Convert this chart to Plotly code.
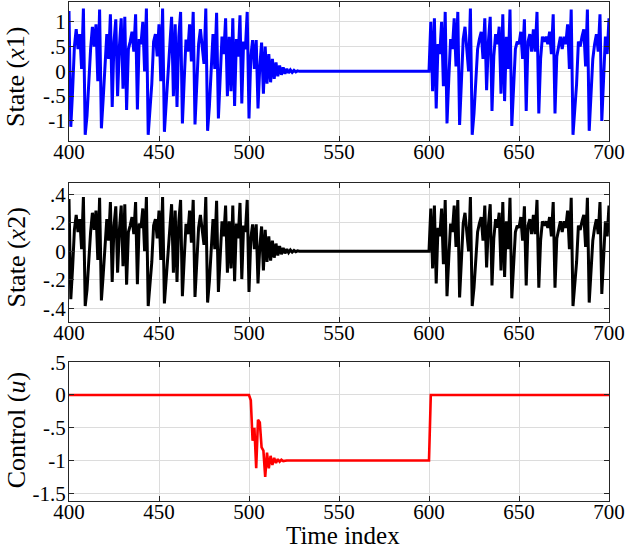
import plotly.graph_objects as go

# Time index
t = list(range(400, 701))

# State x1
x1 = [
    1.22, -1.12, -0.39, 0.50, 0.85, 0.45, 0.75, 0.05, 1.27, -1.28,
    -0.90, -0.20, 0.45, 0.90, 0.50, 0.95, -0.20, 1.25, -1.15, -0.55,
    0.20, 0.75, 0.25, 1.15, -0.72, 0.60, 1.05, -0.50, 0.50, 1.07,
    -0.35, 1.10, -0.78, 0.45, 0.60, 0.80, 0.40, 1.15, -0.77, 0.65,
    0.55, 1.00, 0.00, 1.27, -1.28, -0.85, -0.25, 0.60, 0.75, 0.30,
    0.95, -0.20, 1.27, -1.22, -0.65, 0.10, 0.70, 1.10, -0.50, 0.95,
    -0.72, 0.70, 1.20, -1.05, -0.18, 0.64, 0.40, 0.95, 0.20, 1.20,
    -1.07, -0.30, 0.55, 0.85, 0.50, 0.15, 1.27, -1.20, -0.70, 0.20,
    0.75, 0.05, 1.18, -0.95, 0.05, 0.70, 0.35, 1.07, -0.50, 0.70,
    -0.40, 1.07, -0.70, 0.65, 0.30, 1.13, -0.65, 0.60, 0.45, 1.20,
    -0.95,
    0.30, 0.63, 0.05, 0.63, -0.75, 0.10, 0.58, -0.45, 0.50, -0.25,
    0.35, -0.22, 0.25, -0.15, 0.18, -0.10, 0.12, -0.07, 0.08, -0.05,
    0.05, -0.03, 0.03, -0.02, 0.02, -0.01, 0.01,
    0, 0, 0, 0, 0, 0, 0, 0, 0, 0, 0, 0, 0, 0, 0, 0, 0, 0, 0, 0,
    0, 0, 0, 0, 0, 0, 0, 0, 0, 0, 0, 0, 0, 0, 0, 0, 0, 0, 0, 0,
    0, 0, 0, 0, 0, 0, 0, 0, 0, 0, 0, 0, 0, 0, 0, 0, 0, 0, 0, 0,
    0, 0, 0, 0, 0, 0, 0, 0, 0, 0, 0, 0, 0,
    1.00, -0.40, 1.07, -0.75, 0.55, 0.35, 1.00, -0.30, 1.20, -1.05,
    -0.15, 0.65, 0.45, 1.07, 0.10, 1.20, -1.08, -0.25, 0.65, 0.90,
    0.50, 0.00, 1.27, -1.28, -0.85, -0.25, 0.45, 0.65, 0.80, 0.25,
    1.07, -0.38, 0.60, 1.10, -0.80, 0.30, 0.75, 0.55, 0.90, -0.45,
    1.15, -0.60, 0.70, 0.05, 1.25, -1.10, -0.40, 0.45, 0.60, 0.55,
    0.80, 0.25, 1.05, -0.80, 0.60, 0.75, 0.40, 0.85, 0.40, 1.20,
    -0.85, 0.25, 0.70, 0.60, 0.70, 0.55, 0.80, 0.35, 1.15, -0.85,
    0.30, 0.55, 0.70, 0.45, 0.70, 0.55, 0.95, 0.05, 1.25, -1.28,
    -0.85, -0.25, 0.60, 0.50, 0.70, 0.85, 0.10, 1.25, -1.20, -0.60,
    0.25, 0.55, 0.75, 0.40, 1.15, -1.00, -0.05, 0.70, 0.35, 1.07,
]

# State x2
x2 = [
    0.366, -0.336, -0.117, 0.150, 0.255, 0.135, 0.225, 0.015, 0.381, -0.384,
    -0.270, -0.060, 0.135, 0.270, 0.150, 0.285, -0.060, 0.375, -0.345, -0.165,
    0.060, 0.225, 0.075, 0.345, -0.216, 0.180, 0.315, -0.150, 0.150, 0.321,
    -0.105, 0.330, -0.234, 0.135, 0.180, 0.240, 0.120, 0.345, -0.231, 0.195,
    0.165, 0.300, 0.000, 0.381, -0.384, -0.255, -0.075, 0.180, 0.225, 0.090,
    0.285, -0.060, 0.381, -0.366, -0.195, 0.030, 0.210, 0.330, -0.150, 0.285,
    -0.216, 0.210, 0.360, -0.315, -0.054, 0.192, 0.120, 0.285, 0.060, 0.360,
    -0.321, -0.090, 0.165, 0.255, 0.150, 0.045, 0.381, -0.360, -0.210, 0.060,
    0.225, 0.015, 0.354, -0.285, 0.015, 0.210, 0.105, 0.321, -0.150, 0.210,
    -0.120, 0.321, -0.210, 0.195, 0.090, 0.339, -0.195, 0.180, 0.135, 0.360,
    -0.285,
    0.090, 0.189, 0.015, 0.189, -0.225, 0.030, 0.174, -0.135, 0.150, -0.075,
    0.105, -0.066, 0.075, -0.045, 0.054, -0.030, 0.036, -0.021, 0.024, -0.015,
    0.015, -0.009, 0.009, -0.006, 0.006, -0.003, 0.003,
    0, 0, 0, 0, 0, 0, 0, 0, 0, 0, 0, 0, 0, 0, 0, 0, 0, 0, 0, 0,
    0, 0, 0, 0, 0, 0, 0, 0, 0, 0, 0, 0, 0, 0, 0, 0, 0, 0, 0, 0,
    0, 0, 0, 0, 0, 0, 0, 0, 0, 0, 0, 0, 0, 0, 0, 0, 0, 0, 0, 0,
    0, 0, 0, 0, 0, 0, 0, 0, 0, 0, 0, 0, 0,
    0.300, -0.120, 0.321, -0.225, 0.165, 0.105, 0.300, -0.090, 0.360, -0.315,
    -0.045, 0.195, 0.135, 0.321, 0.030, 0.360, -0.324, -0.075, 0.195, 0.270,
    0.150, 0.000, 0.381, -0.384, -0.255, -0.075, 0.135, 0.195, 0.240, 0.075,
    0.321, -0.114, 0.180, 0.330, -0.240, 0.090, 0.225, 0.165, 0.270, -0.135,
    0.345, -0.180, 0.210, 0.015, 0.375, -0.330, -0.120, 0.135, 0.180, 0.165,
    0.240, 0.075, 0.315, -0.240, 0.180, 0.225, 0.120, 0.255, 0.120, 0.360,
    -0.255, 0.075, 0.210, 0.180, 0.210, 0.165, 0.240, 0.105, 0.345, -0.255,
    0.090, 0.165, 0.210, 0.135, 0.210, 0.165, 0.285, 0.015, 0.375, -0.384,
    -0.255, -0.075, 0.180, 0.150, 0.210, 0.255, 0.030, 0.375, -0.360, -0.180,
    0.075, 0.165, 0.225, 0.120, 0.345, -0.300, -0.015, 0.210, 0.105, 0.321,
]

# Control u
u = [
    0, 0, 0, 0, 0, 0, 0, 0, 0, 0, 0, 0, 0, 0, 0, 0, 0, 0, 0, 0,
    0, 0, 0, 0, 0, 0, 0, 0, 0, 0, 0, 0, 0, 0, 0, 0, 0, 0, 0, 0,
    0, 0, 0, 0, 0, 0, 0, 0, 0, 0, 0, 0, 0, 0, 0, 0, 0, 0, 0, 0,
    0, 0, 0, 0, 0, 0, 0, 0, 0, 0, 0, 0, 0, 0, 0, 0, 0, 0, 0, 0,
    0, 0, 0, 0, 0, 0, 0, 0, 0, 0, 0, 0, 0, 0, 0, 0, 0, 0, 0, 0,
    0,
    -0.08, -0.70, -0.50, -1.12, -0.38, -0.42, -0.80, -0.85, -1.25, -0.88,
    -1.12, -0.93, -1.07, -0.96, -1.04, -0.98, -1.02, -0.99, -1.01, -1.00,
    -1.00, -1.00, -1.00,
    -1, -1, -1, -1, -1, -1, -1, -1, -1, -1, -1, -1, -1, -1, -1, -1, -1, -1, -1, -1,
    -1, -1, -1, -1, -1, -1, -1, -1, -1, -1, -1, -1, -1, -1, -1, -1, -1, -1, -1, -1,
    -1, -1, -1, -1, -1, -1, -1, -1, -1, -1, -1, -1, -1, -1, -1, -1, -1, -1, -1, -1,
    -1, -1, -1, -1, -1, -1, -1, -1, -1, -1, -1, -1, -1, -1, -1, -1, -1,
    0, 0, 0, 0, 0, 0, 0, 0, 0, 0, 0, 0, 0, 0, 0, 0, 0, 0, 0, 0,
    0, 0, 0, 0, 0, 0, 0, 0, 0, 0, 0, 0, 0, 0, 0, 0, 0, 0, 0, 0,
    0, 0, 0, 0, 0, 0, 0, 0, 0, 0, 0, 0, 0, 0, 0, 0, 0, 0, 0, 0,
    0, 0, 0, 0, 0, 0, 0, 0, 0, 0, 0, 0, 0, 0, 0, 0, 0, 0, 0, 0,
    0, 0, 0, 0, 0, 0, 0, 0, 0, 0, 0, 0, 0, 0, 0, 0, 0, 0, 0, 0,
]

x_ticks = [400, 450, 500, 550, 600, 650, 700]
x1_ticks = [-1, -0.5, 0, 0.5, 1]
x1_labels = ["-1", "-.5", "0", ".5", "1"]
x2_ticks = [-0.4, -0.2, 0, 0.2, 0.4]
x2_labels = ["-.4", "-.2", "0", ".2", ".4"]
u_ticks = [-1.5, -1, -0.5, 0, 0.5]
u_labels = ["-1.5", "-1", "-.5", "0", ".5"]

FONT = "Liberation Serif"

fig = go.Figure()
fig.add_trace(go.Scatter(x=t, y=x1, mode="lines", line=dict(color="#0000ff", width=3),
                         xaxis="x", yaxis="y", showlegend=False))
fig.add_trace(go.Scatter(x=t, y=x2, mode="lines", line=dict(color="#000000", width=3),
                         xaxis="x2", yaxis="y2", showlegend=False))
fig.add_trace(go.Scatter(x=t, y=u, mode="lines", line=dict(color="#ff0000", width=2.6),
                         xaxis="x3", yaxis="y3", showlegend=False))

common = dict(showline=True, linecolor="#262626", linewidth=1, mirror="ticks",
              ticks="inside", ticklen=5, tickwidth=1, tickcolor="#262626",
              showgrid=True, gridcolor="#dcdcdc", gridwidth=1, zeroline=False,
              automargin=False,
              tickfont=dict(family=FONT, size=21, color="black"))

def xax(anchor):
    return dict(common, range=[400, 700], tickvals=x_ticks, anchor=anchor,
                domain=[0, 1], ticklabelstandoff=-8)

def yax(rng, vals, text, dom, anchor):
    return dict(common, range=rng, tickvals=vals, ticktext=text, domain=dom,
                anchor=anchor, ticklabelstandoff=-2)

fig.update_layout(
    width=628, height=549,
    autosize=False,
    font=dict(family=FONT, size=21, color="black"),
    margin=dict(l=69, r=19, t=2, b=48, autoexpand=False),
    paper_bgcolor="white", plot_bgcolor="white",
    xaxis=xax("y"),
    xaxis2=xax("y2"),
    xaxis3=xax("y3"),
    yaxis=yax([-1.4, 1.4], x1_ticks, x1_labels, [0.722, 1.0], "x"),
    yaxis2=yax([-0.494, 0.481], x2_ticks, x2_labels, [0.3593, 0.6379], "x2"),
    yaxis3=yax([-1.62, 0.5], u_ticks, u_labels, [0.0, 0.278], "x3"),
    annotations=[
        dict(text="State (<i>x</i>1)", x=-0.098, y=0.850, xref="paper", yref="paper",
             xanchor="center", yanchor="middle", textangle=-90, showarrow=False,
             font=dict(family=FONT, size=26, color="black")),
        dict(text="State (<i>x</i>2)", x=-0.098, y=0.488, xref="paper", yref="paper",
             xanchor="center", yanchor="middle", textangle=-90, showarrow=False,
             font=dict(family=FONT, size=26, color="black")),
        dict(text="Control (<i>u</i>)", x=-0.098, y=0.142, xref="paper", yref="paper",
             xanchor="center", yanchor="middle", textangle=-90, showarrow=False,
             font=dict(family=FONT, size=26, color="black")),
        dict(text="Time index", x=0.507, y=-0.069, xref="paper", yref="paper",
             xanchor="center", yanchor="middle", showarrow=False,
             font=dict(family=FONT, size=25, color="black")),
    ],
)

fig.write_html(
    "out.html",
    config={"responsive": False, "displayModeBar": False},
    post_script="document.body.style.margin='0';document.body.style.padding='0';"
                "document.documentElement.style.overflow='hidden';",
)
